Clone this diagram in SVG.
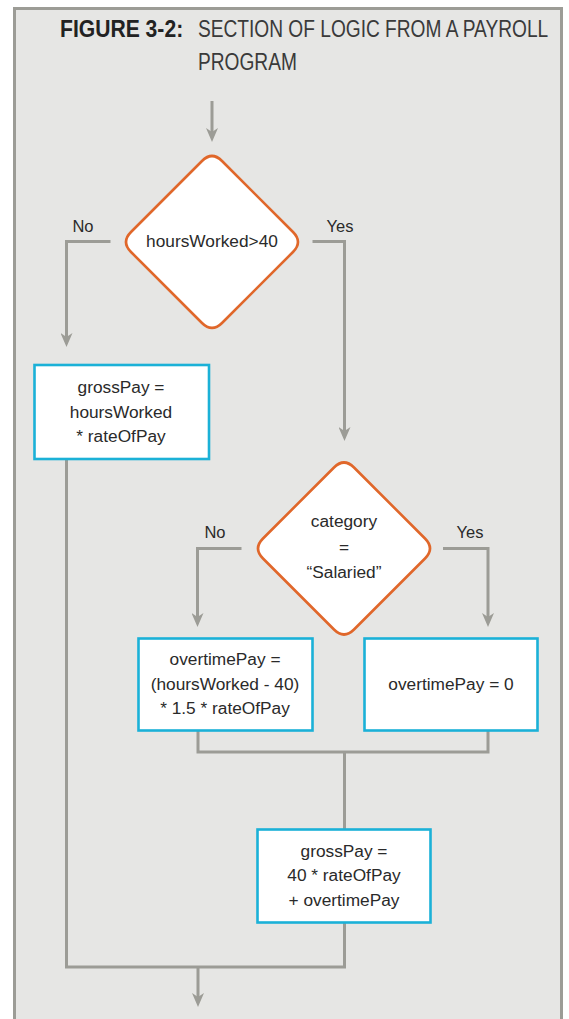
<svg xmlns="http://www.w3.org/2000/svg" width="569" height="1019" viewBox="0 0 569 1019">
  <defs>
    <style>
      .frame { fill: #E6E6E4; stroke: #9C9C96; stroke-width: 3; }
      .wire { fill: none; stroke: #9C9C96; stroke-width: 3; }
      .decision { fill: #FFFFFF; stroke: #E0672A; stroke-width: 2.6; stroke-linejoin: round; }
      .process { fill: #FFFFFF; stroke: #1BB1D7; stroke-width: 2.6; }
      .txt { font-family: "Liberation Sans", Arial, sans-serif; font-size: 17.3px; fill: #2A2A2A; text-anchor: middle; }
      .lbl { font-family: "Liberation Sans", Arial, sans-serif; font-size: 16.5px; fill: #2A2A2A; text-anchor: middle; }
      .title-b { font-family: "Liberation Sans", Arial, sans-serif; font-size: 24px; font-weight: bold; fill: #222222; }
      .title-n { font-family: "Liberation Sans", Arial, sans-serif; font-size: 23.5px; fill: #3A3A3A; }
    </style>
    <marker id="arrow" viewBox="0 0 14 12" refX="6" refY="6" markerWidth="14" markerHeight="12" markerUnits="userSpaceOnUse" orient="auto">
      <path d="M0,0 L14,6 L0,12 L4,6 Z" fill="#9C9C96"/>
    </marker>
  </defs>

  <!-- page and panel -->
  <rect x="0" y="0" width="569" height="1019" fill="#FFFFFF"/>
  <rect class="frame" x="14.5" y="8.5" width="547" height="1030"/>

  <!-- heading, horizontally condensed -->
  <g id="title">
    <text class="title-b" transform="scale(0.88,1)" x="68.2" y="37">FIGURE 3-2:</text>
    <g transform="scale(0.815,1)">
      <text class="title-n" x="242.9" y="37">SECTION OF LOGIC FROM A PAYROLL</text>
      <text class="title-n" x="242.9" y="70">PROGRAM</text>
    </g>
  </g>

  <!-- connectors -->
  <g id="connectors">
    <path class="wire" d="M212,101 V134" marker-end="url(#arrow)"/>
    <path class="wire" d="M110.5,241.5 H66.5 V339" marker-end="url(#arrow)"/>
    <path class="wire" d="M312.5,241.5 H344.5 V433" marker-end="url(#arrow)"/>
    <path class="wire" d="M241.5,548.5 H197.5 V619" marker-end="url(#arrow)"/>
    <path class="wire" d="M443,548.5 H488 V619" marker-end="url(#arrow)"/>
    <path class="wire" d="M198,731 V752 H488 V731"/>
    <path class="wire" d="M344.5,752 V829"/>
    <path class="wire" d="M344.5,923 V967 H66.5 V459"/>
    <path class="wire" d="M198,967 V999" marker-end="url(#arrow)"/>
    <text class="lbl" x="83" y="232">No</text>
    <text class="lbl" x="340" y="232">Yes</text>
    <text class="lbl" x="215" y="538">No</text>
    <text class="lbl" x="470" y="538">Yes</text>
  </g>

  <!-- first decision -->
  <g id="hours-check">
    <path class="decision" d="M202,161 Q212,151 222,161 L293,232 Q303,242 293,252 L222,323 Q212,333 202,323 L131,252 Q121,242 131,232 Z"/>
    <text class="txt" x="212" y="247">hoursWorked&gt;40</text>
  </g>

  <!-- regular pay -->
  <g id="gross-regular">
    <rect class="process" x="34.5" y="365" width="174.5" height="94"/>
    <text class="txt" x="121" y="393">grossPay =</text>
    <text class="txt" x="121" y="418">hoursWorked</text>
    <text class="txt" x="121" y="442">* rateOfPay</text>
  </g>

  <!-- second decision -->
  <g id="category-check">
    <path class="decision" d="M334,467.5 Q344,457.5 354,467.5 L425,538.5 Q435,548.5 425,558.5 L354,629.5 Q344,639.5 334,629.5 L263,558.5 Q253,548.5 263,538.5 Z"/>
    <text class="txt" x="344" y="527">category</text>
    <text class="txt" x="344" y="553">=</text>
    <text class="txt" x="344" y="578">“Salaried”</text>
  </g>

  <!-- overtime for hourly staff -->
  <g id="overtime-calc">
    <rect class="process" x="138.5" y="638.5" width="174" height="92"/>
    <text class="txt" x="225" y="665">overtimePay =</text>
    <text class="txt" x="225" y="689.5">(hoursWorked - 40)</text>
    <text class="txt" x="225" y="714">* 1.5 * rateOfPay</text>
  </g>

  <!-- no overtime for salaried staff -->
  <g id="overtime-zero">
    <rect class="process" x="364.5" y="638.5" width="173" height="92"/>
    <text class="txt" x="451" y="689.5">overtimePay = 0</text>
  </g>

  <!-- pay including overtime -->
  <g id="gross-overtime">
    <rect class="process" x="257.5" y="829.5" width="173" height="93"/>
    <text class="txt" x="344" y="856.5">grossPay =</text>
    <text class="txt" x="344" y="881">40 * rateOfPay</text>
    <text class="txt" x="344" y="906">+ overtimePay</text>
  </g>
</svg>
